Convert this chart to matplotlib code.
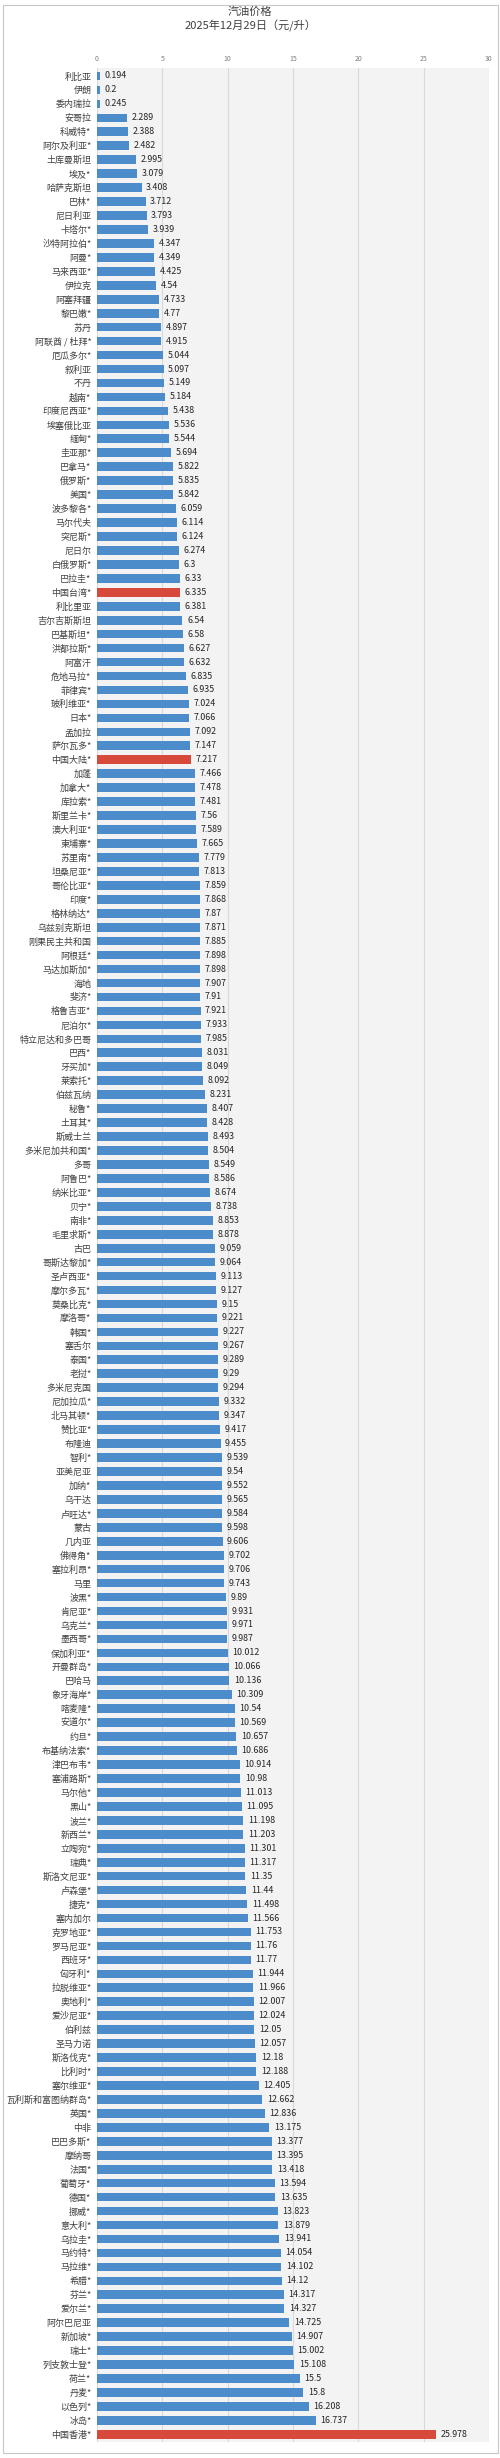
import matplotlib
matplotlib.use('Agg')
import matplotlib.pyplot as plt
from matplotlib.patches import Rectangle

plt.rcParams['font.family'] = ['Noto Sans CJK SC', 'DejaVu Sans']

TITLE = '汽油价格\n2025年12月29日（元/升）'

countries = [
    '利比亚', '伊朗', '委内瑞拉', '安哥拉', '科威特*', '阿尔及利亚*', '土库曼斯坦', '埃及*',
    '哈萨克斯坦', '巴林*', '尼日利亚', '卡塔尔*', '沙特阿拉伯*', '阿曼*', '马来西亚*', '伊拉克',
    '阿塞拜疆', '黎巴嫩*', '苏丹', '阿联酋 / 杜拜*', '厄瓜多尔*', '叙利亚', '不丹', '越南*',
    '印度尼西亚*', '埃塞俄比亚', '缅甸*', '圭亚那*', '巴拿马*', '俄罗斯*', '美国*', '波多黎各*',
    '马尔代夫', '突尼斯*', '尼日尔', '白俄罗斯*', '巴拉圭*', '中国台湾*', '利比里亚', '吉尔吉斯斯坦',
    '巴基斯坦*', '洪都拉斯*', '阿富汗', '危地马拉*', '菲律宾*', '玻利维亚*', '日本*', '孟加拉',
    '萨尔瓦多*', '中国大陆*', '加蓬', '加拿大*', '库拉索*', '斯里兰卡*', '澳大利亚*', '柬埔寨*',
    '苏里南*', '坦桑尼亚*', '哥伦比亚*', '印度*', '格林纳达*', '乌兹别克斯坦', '刚果民主共和国', '阿根廷*',
    '马达加斯加*', '海地', '斐济*', '格鲁吉亚*', '尼泊尔*', '特立尼达和多巴哥', '巴西*', '牙买加*',
    '莱索托*', '伯兹瓦纳', '秘鲁*', '土耳其*', '斯威士兰', '多米尼加共和国*', '多哥', '阿鲁巴*',
    '纳米比亚*', '贝宁*', '南非*', '毛里求斯*', '古巴', '哥斯达黎加*', '圣卢西亚*', '摩尔多瓦*',
    '莫桑比克*', '摩洛哥*', '韩国*', '塞舌尔', '泰国*', '老挝*', '多米尼克国', '尼加拉瓜*',
    '北马其顿*', '赞比亚*', '布隆迪', '智利*', '亚美尼亚', '加纳*', '乌干达', '卢旺达*',
    '蒙古', '几内亚', '佛得角*', '塞拉利昂*', '马里', '波黑*', '肯尼亚*', '乌克兰*',
    '墨西哥*', '保加利亚*', '开曼群岛*', '巴哈马', '象牙海岸*', '喀麦隆*', '安道尔*', '约旦*',
    '布基纳法索*', '津巴布韦*', '塞浦路斯*', '马尔他*', '黑山*', '波兰*', '新西兰*', '立陶宛*',
    '瑞典*', '斯洛文尼亚*', '卢森堡*', '捷克*', '塞内加尔', '克罗地亚*', '罗马尼亚*', '西班牙*',
    '匈牙利*', '拉脱维亚*', '奥地利*', '爱沙尼亚*', '伯利兹', '圣马力诺', '斯洛伐克*', '比利时*',
    '塞尔维亚*', '瓦利斯和富图纳群岛*', '英国*', '中非', '巴巴多斯*', '摩纳哥', '法国*', '葡萄牙*',
    '德国*', '挪威*', '意大利*', '乌拉圭*', '马约特*', '马拉维*', '希腊*', '芬兰*',
    '爱尔兰*', '阿尔巴尼亚', '新加坡*', '瑞士*', '列支敦士登*', '荷兰*', '丹麦*', '以色列*',
    '冰岛*', '中国香港*',
]

prices = [
    0.194, 0.2, 0.245, 2.289, 2.388, 2.482, 2.995, 3.079,
    3.408, 3.712, 3.793, 3.939, 4.347, 4.349, 4.425, 4.54,
    4.733, 4.77, 4.897, 4.915, 5.044, 5.097, 5.149, 5.184,
    5.438, 5.536, 5.544, 5.694, 5.822, 5.835, 5.842, 6.059,
    6.114, 6.124, 6.274, 6.3, 6.33, 6.335, 6.381, 6.54,
    6.58, 6.627, 6.632, 6.835, 6.935, 7.024, 7.066, 7.092,
    7.147, 7.217, 7.466, 7.478, 7.481, 7.56, 7.589, 7.665,
    7.779, 7.813, 7.859, 7.868, 7.87, 7.871, 7.885, 7.898,
    7.898, 7.907, 7.91, 7.921, 7.933, 7.985, 8.031, 8.049,
    8.092, 8.231, 8.407, 8.428, 8.493, 8.504, 8.549, 8.586,
    8.674, 8.738, 8.853, 8.878, 9.059, 9.064, 9.113, 9.127,
    9.15, 9.221, 9.227, 9.267, 9.289, 9.29, 9.294, 9.332,
    9.347, 9.417, 9.455, 9.539, 9.54, 9.552, 9.565, 9.584,
    9.598, 9.606, 9.702, 9.706, 9.743, 9.89, 9.931, 9.971,
    9.987, 10.012, 10.066, 10.136, 10.309, 10.54, 10.569, 10.657,
    10.686, 10.914, 10.98, 11.013, 11.095, 11.198, 11.203, 11.301,
    11.317, 11.35, 11.44, 11.498, 11.566, 11.753, 11.76, 11.77,
    11.944, 11.966, 12.007, 12.024, 12.05, 12.057, 12.18, 12.188,
    12.405, 12.662, 12.836, 13.175, 13.377, 13.395, 13.418, 13.594,
    13.635, 13.823, 13.879, 13.941, 14.054, 14.102, 14.12, 14.317,
    14.327, 14.725, 14.907, 15.002, 15.108, 15.5, 15.8, 16.208,
    16.737, 25.978,
]

highlight = ['中国台湾*', '中国大陆*', '中国香港*']
x_ticks = [0, 5, 10, 15, 20, 25, 30]

BLUE = '#4d8ccb'
RED = '#d6493b'

fig = plt.figure(figsize=(5.0, 24.58), dpi=100)
fig.patches.append(Rectangle((0.006, 0.002), 0.99, 0.996, transform=fig.transFigure,
                             fill=False, edgecolor='#c8c8c8', lw=0.8))
ax = fig.add_axes([0.194, 0.0065, 0.784, 0.966])
ax.set_facecolor('#f3f3f3')

ypos = list(range(len(countries)))
colors = [RED if c in highlight else BLUE for c in countries]
ax.barh(ypos, prices, height=0.62, color=colors, zorder=3)

for y, v in zip(ypos, prices):
    ax.text(v + 0.35, y, f'{v:g}', va='center', ha='left', fontsize=6.4,
            color='#262626', zorder=4)

ax.set_xlim(0, 30)
ax.set_ylim(len(countries) - 0.45, -0.6)
ax.set_yticks(ypos)
ax.set_yticklabels(countries, fontsize=6.5, color='#404040')
ax.set_xticks(x_ticks)
ax.xaxis.tick_top()
ax.tick_params(axis='x', labelsize=5, colors='#7f7f7f', length=0, pad=3)
ax.tick_params(axis='y', length=0, pad=4)
ax.grid(axis='x', color='#d9d9d9', lw=0.8, zorder=0)
for s in ax.spines.values():
    s.set_visible(False)

fig.text(0.5, 0.9972, TITLE, ha='center', va='top', fontsize=8, color='#404040',
         linespacing=1.3)

plt.savefig('out.png', dpi=100)
plt.close()
